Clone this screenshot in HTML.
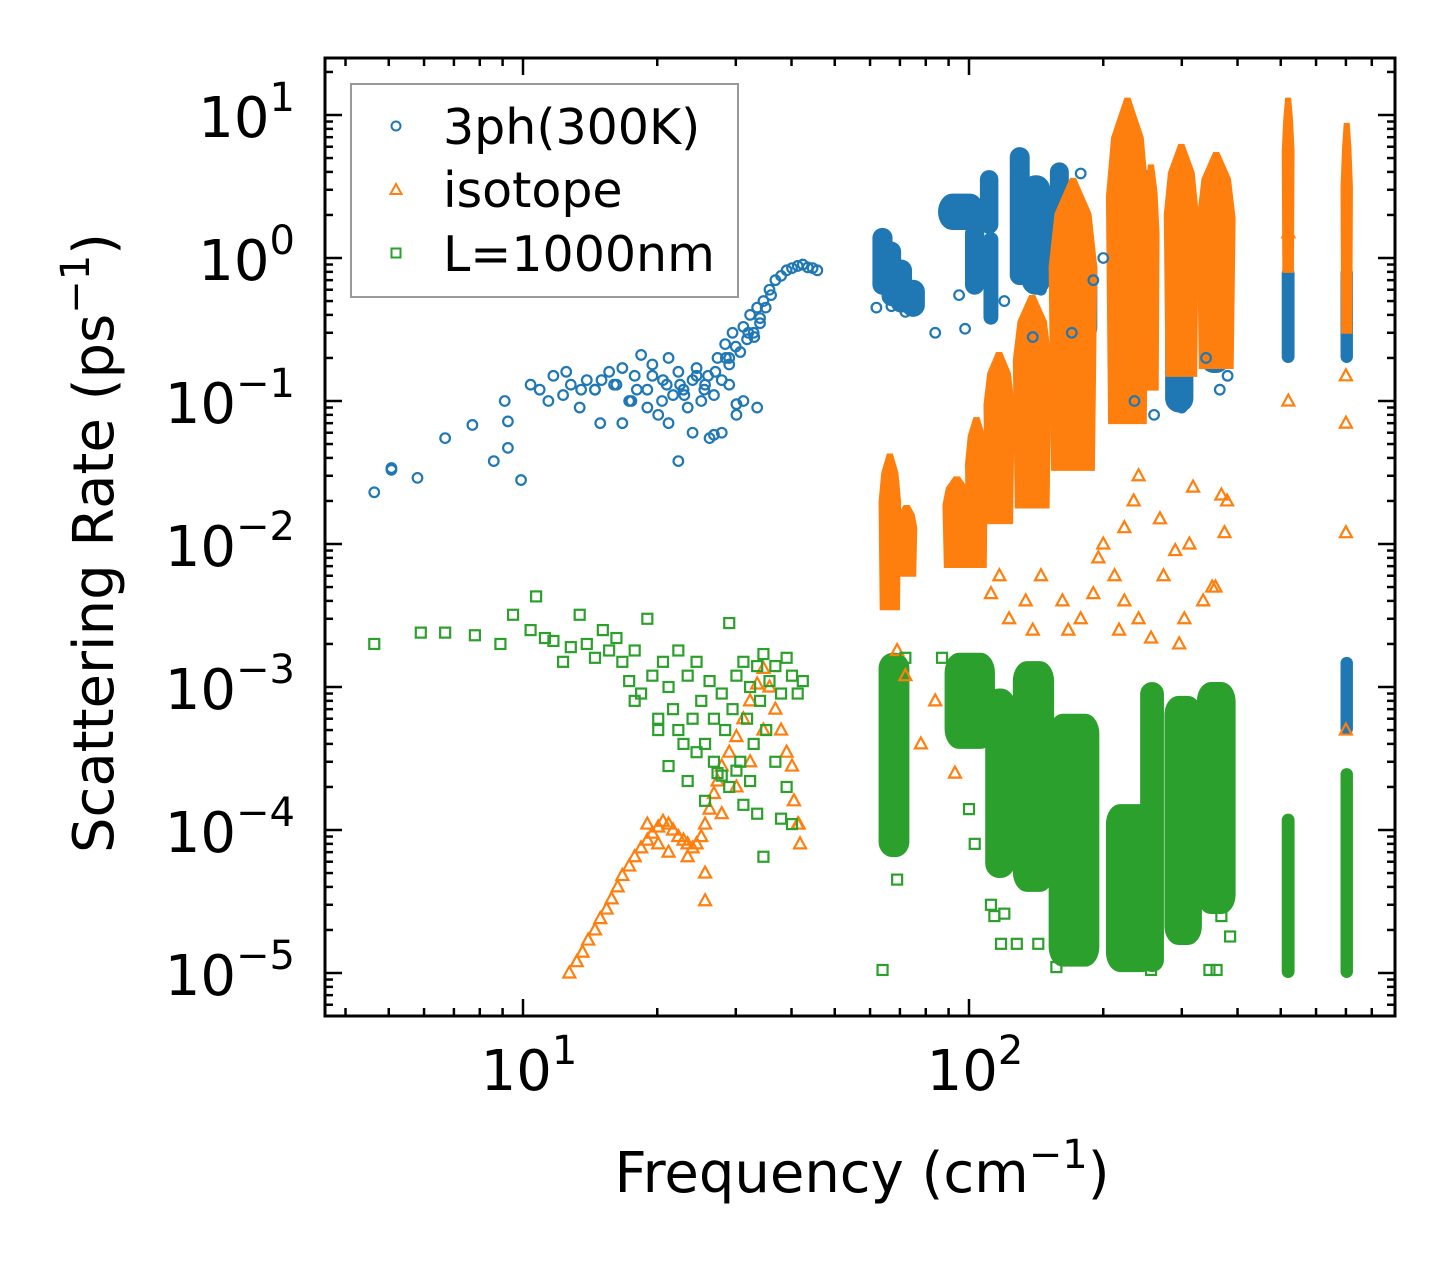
<!DOCTYPE html>
<html><head><meta charset="utf-8"><style>
html,body{margin:0;padding:0;background:#fff;}
svg{display:block;font-family:"DejaVu Sans","Liberation Sans",sans-serif;}
</style></head><body>
<svg id="chart" width="1455" height="1265" viewBox="0 0 1455 1265" xmlns="http://www.w3.org/2000/svg">
<rect x="0" y="0" width="1455" height="1265" fill="#fff"/>
<g id="bands"></g>
<g id="marks"></g>
<g id="axes"></g>
</svg>
<script>
// ---- data (frequency cm^-1, rate ps^-1) ----
const blueF = [4.64,5.07,5.07,5.8,6.69,7.7,8.6,9.1,9.25,9.25,9.9,10.4,10.9,11.4,11.7,12.3,12.8,13.4,13.9,14.5,14.9,15.6,16.2,16.7,17.3,17.8,18.4,19,19.5,20.1,20.6,21.2,21.7,22.3,22.3,22.9,23.4,24,24.5,25.1,25.6,26.2,26.8,27.3,27.9,28.4,29,29.5,30.1,30.7,31.2,31.8,32.3,32.9,33.5,34,34.6,35.7,36.8,37.9,39,40.1,41.3,42.4,43.5,44.6,45.7,27.9,26.8,31.2,33.5,30.1,29,24.5,19,21.2,16.7,62,67,72,84,95,98,112,120,139,145,170,178,190,200,235,260,300,340,365,380,12.5,13.5,15,16,18,19.5,21,23,24,25.5,27,28.5,30,32,34,35,36,33,29,26,22.5,20.5,17.5,14.5];
const blueR = [0.023,0.034,0.033,0.029,0.055,0.068,0.038,0.1,0.072,0.047,0.028,0.13,0.12,0.1,0.15,0.11,0.13,0.09,0.14,0.12,0.07,0.16,0.13,0.17,0.1,0.15,0.21,0.12,0.18,0.08,0.14,0.2,0.11,0.16,0.038,0.12,0.09,0.06,0.15,0.1,0.13,0.055,0.11,0.2,0.14,0.25,0.18,0.3,0.08,0.22,0.33,0.27,0.4,0.3,0.45,0.35,0.5,0.6,0.7,0.75,0.82,0.85,0.88,0.9,0.86,0.85,0.82,0.06,0.058,0.1,0.09,0.095,0.13,0.17,0.09,0.07,0.07,0.45,0.46,0.42,0.3,0.55,0.32,0.42,0.5,0.28,0.6,0.3,3.9,0.7,1.0,0.1,0.08,0.09,0.2,0.12,0.15,0.16,0.12,0.14,0.13,0.12,0.15,0.13,0.11,0.14,0.12,0.16,0.2,0.24,0.3,0.38,0.45,0.55,0.28,0.2,0.15,0.13,0.1,0.1,0.12];
const orangeF = [12.7,13.2,13.6,14,14.5,14.9,15.4,15.8,16.3,16.7,17.3,17.8,18.4,19,19.5,20.1,20.6,21.2,21.7,22.3,22.9,23.4,24,24.5,25.1,25.6,26.2,26.8,27.3,27.9,29,30.1,31.2,32.3,33.5,34.6,35.7,36.8,37.9,39,40.1,41.3,41.8,25.6,25.6,21.2,23.4,27.9,30.1,32.3,34.6,19,20.1,40.5,41.5,112,117,123,134,139,145,162,167,178,190,195,212,217,223,240,256,273,290,296,312,335,357,368,374,69,72,78,84,93,223,240,200,234,268,318,379,351,304,180,520,520,700,700,700,700];
const orangeR = [1e-5,1.2e-5,1.4e-5,1.7e-5,2e-5,2.4e-5,2.8e-5,3.3e-5,4e-5,4.8e-5,5.6e-5,6.5e-5,7.5e-5,8.5e-5,9.5e-5,1.05e-4,1.15e-4,1.1e-4,1e-4,9e-5,8.5e-5,8e-5,7.5e-5,8e-5,9e-5,1.1e-4,1.4e-4,1.8e-4,2.2e-4,2.8e-4,3.5e-4,4.5e-4,6e-4,8e-4,1.05e-3,1.35e-3,1e-3,7e-4,5e-4,3.5e-4,2.8e-4,1.1e-4,8e-5,3.2e-5,5e-5,7e-5,6.5e-5,1.3e-4,2e-4,3e-4,5e-4,1.1e-4,8e-5,1.6e-4,1.1e-4,0.0045,0.006,0.003,0.004,0.0025,0.006,0.004,0.0025,0.003,0.0045,0.008,0.006,0.0025,0.004,0.003,0.0022,0.006,0.009,0.002,0.01,0.004,0.005,0.022,0.012,0.0018,0.0012,4e-4,8e-4,2.5e-4,0.013,0.03,0.01,0.02,0.015,0.025,0.02,0.005,0.003,0.04,0.1,1.5,0.15,0.07,0.012,5e-4];
const greenF = [4.64,5.9,6.69,7.8,8.9,9.5,10.4,10.7,11.2,11.7,12.3,12.8,13.4,13.9,14.5,15.1,15.6,16.2,16.7,17.3,17.8,18.4,19,19.5,20.1,20.6,21.2,21.7,22.3,22.9,23.4,24,24.5,25.1,25.6,26.2,26.8,27.3,27.9,28.4,29,29.5,30.1,30.7,31.2,31.8,32.3,32.9,33.5,34,34.6,35.1,35.7,36.8,37.9,39,40.1,41.3,42.4,33.5,34.6,37.9,40.1,31.2,29,26.8,24.5,22.3,20.1,17.8,21.2,23.4,25.6,27.9,30.1,32.3,36.8,39,64,69,100,103,112,114,118,120,128,130,139,143,157,178,256,346,368,385,359,72,87];
const greenR = [2e-3,2.4e-3,2.4e-3,2.3e-3,2e-3,3.2e-3,2.5e-3,4.3e-3,2.2e-3,2.1e-3,1.5e-3,1.9e-3,3.2e-3,2e-3,1.6e-3,2.5e-3,1.8e-3,2.2e-3,1.5e-3,1.1e-3,1.8e-3,9e-4,3e-3,1.2e-3,6e-4,1.5e-3,1e-3,7e-4,1.8e-3,4e-4,1.2e-3,6e-4,1.5e-3,8e-4,4e-4,1.1e-3,6e-4,2.5e-4,9e-4,5e-4,2.8e-3,7e-4,1.2e-3,3e-4,1.5e-3,6e-4,1e-3,4e-4,1.4e-3,8e-4,1.7e-3,5e-4,1.1e-3,1.4e-3,9e-4,1.6e-3,1.2e-3,9e-4,1.1e-3,1.3e-4,6.5e-5,1.2e-4,1.1e-4,1.5e-4,2e-4,3e-4,3.5e-4,5e-4,5e-4,8e-4,2.8e-4,2.2e-4,1.6e-4,2.4e-4,2.6e-4,2.2e-4,3e-4,2e-4,1.05e-5,4.5e-5,1.4e-4,8e-5,3e-5,2.5e-5,1.6e-5,2.6e-5,1.6e-5,8e-5,5e-5,1.6e-5,1.1e-5,1.9e-5,1.05e-5,1.05e-5,2.5e-5,1.8e-5,1.05e-5,1.6e-3,1.6e-3];
// dense clusters: [freqLow, freqHigh, rateTop, rateBottom]
const blueBandF1 = [62,65,68,72,87,100,108,110,126,134,155,171,212,226,281,336,513,695,695];
const blueBandF2 = [66,69,73,78,106,106,114,114,134,149,164,190,230,252,312,377,526,711,711];
const blueBandR1 = [1.5,1.2,0.9,0.65,2.6,1.6,3.8,1.4,5.5,3.5,4.3,1.0,5.0,4.0,1.1,0.5,0.8,0.8,1.5e-3];
const blueBandR2 = [0.6,0.5,0.45,0.42,1.7,0.6,1.6,0.37,0.7,0.6,0.31,0.28,0.25,0.3,0.09,0.17,0.2,0.2,5e-4];
const orangeBandF1 = [64,70,89,100,110,128,154,207,250,279,331,513,695];
const orangeBandF2 = [69,75,99,108,124,150,190,248,262,321,388,526,711];
const orangeBandR1 = [0.039,0.017,0.027,0.07,0.2,0.5,3.3,12,4.1,5.7,5,12,8];
const orangeBandR2 = [0.0035,0.006,0.0069,0.0069,0.014,0.018,0.033,0.07,0.12,0.15,0.17,0.8,0.3];
const greenBandF1 = [64,90,111,128,154,207,247,280,331,513,695];
const greenBandF2 = [72,112,124,152,192,258,268,326,388,526,711];
const greenBandR1 = [1.6e-3,1.6e-3,9e-4,1.4e-3,6e-4,1.4e-4,1.0e-3,8e-4,1.0e-3,1.2e-4,2.5e-4];
const greenBandR2 = [7e-5,4e-4,5e-5,4e-5,1.2e-5,1.1e-5,1.1e-5,1.7e-5,2.8e-5,1e-5,1e-5];
const xTickVals = [10,100];
const xTickLabels = ["1","2"];
const yTickVals = [10,1,0.1,0.01,0.001,0.0001,0.00001];
const yTickLabels = ["1","0","\u22121","\u22122","\u22123","\u22124","\u22125"];

// ---- axis functions ----
const L=325,R=1395,T=58,B=1016;
const X10=523, XDEC=446, Y1=258, YDEC=143;
function sx(f){return X10+(Math.log10(f)-1)*XDEC;}
function sy(r){return Y1-Math.log10(r)*YDEC;}
const NS="http://www.w3.org/2000/svg";
function mk(tag,attrs,parent){const e=document.createElementNS(NS,tag);for(const k in attrs)e.setAttribute(k,attrs[k]);parent.appendChild(e);return e;}
const C={b:"#1f77b4",o:"#ff7f0e",g:"#2ca02c"};
const bandsG=document.getElementById('bands'), marksG=document.getElementById('marks'), axesG=document.getElementById('axes');

const defs=mk('defs',{},document.getElementById('chart'));
const cp=mk('clipPath',{id:'clip'},defs);
mk('rect',{x:L,y:T,width:R-L,height:B-T},cp);
bandsG.setAttribute('clip-path','url(#clip)');
marksG.setAttribute('clip-path','url(#clip)');

function roundBand(f1,f2,r1,r2,col,name){
  const x1=sx(f1)-4,x2=sx(f2)+4,y1=sy(r1)-5,y2=sy(r2)+5;
  const w=x2-x1;
  const el=mk('rect',{x:x1,y:y1,width:w,height:y2-y1,rx:Math.min(w/2,14),ry:Math.min(w/2,20),fill:col},bandsG);
  
  
}
function spikeBand(f1,f2,r1,r2,col,name){
  const x1=sx(f1)-4,x2=sx(f2)+4,y1=sy(r1)-6,y2=sy(r2)+5;
  const cx=(x1+x2)/2,h=y2-y1,w=x2-x1;
  const pts=[[cx-3,y1],[cx+3,y1],[x2-w*0.12,y1+h*0.12],[x2,y1+h*0.3],[x2-w*0.05,y2-4],[x1+w*0.05,y2-4],[x1,y1+h*0.3],[x1+w*0.12,y1+h*0.12]];
  const el=mk('polygon',{points:pts.map(p=>p.join(',')).join(' '),fill:col},bandsG);
  
  
}
function circleM(x,y,parent){return mk('circle',{cx:x,cy:y,r:4.8,fill:'none',stroke:C.b,'stroke-width':2.2},parent);}
function triM(x,y,parent){return mk('polygon',{points:`${x},${y-6.5} ${x+6},${y+4.5} ${x-6},${y+4.5}`,fill:'none',stroke:C.o,'stroke-width':2.2},parent);}
function sqM(x,y,parent){return mk('rect',{x:x-5,y:y-5,width:10,height:10,fill:'none',stroke:C.g,'stroke-width':2.2},parent);}

for(let i=0;i<blueBandF1.length;i++) roundBand(blueBandF1[i],blueBandF2[i],blueBandR1[i],blueBandR2[i],C.b,'3ph-cluster');
for(let i=0;i<blueF.length;i++){const e=circleM(sx(blueF[i]),sy(blueR[i]),marksG);
  
  }
for(let i=0;i<orangeBandF1.length;i++) spikeBand(orangeBandF1[i],orangeBandF2[i],orangeBandR1[i],orangeBandR2[i],C.o,'isotope-cluster');
for(let i=0;i<orangeF.length;i++){const e=triM(sx(orangeF[i]),sy(orangeR[i]),marksG);
  
  }
for(let i=0;i<greenBandF1.length;i++) roundBand(greenBandF1[i],greenBandF2[i],greenBandR1[i],greenBandR2[i],C.g,'boundary-cluster');
for(let i=0;i<greenF.length;i++){const e=sqM(sx(greenF[i]),sy(greenR[i]),marksG);
  
  }

function line(x1,y1,x2,y2,w){return mk('line',{x1:x1,y1:y1,x2:x2,y2:y2,stroke:'#000','stroke-width':w},axesG);}
for(let d=0;d<=2;d++){for(let m=1;m<=9;m++){const f=m*Math.pow(10,d);const x=sx(f);if(x<L+1||x>R-1)continue;
  const len=(m===1)?17:8;
  line(x,B,x,B-len,2.5);line(x,T,x,T+len,2.5);}}
for(let d=-6;d<=1;d++){for(let m=1;m<=9;m++){const r=m*Math.pow(10,d);const y=sy(r);if(y<T+1||y>B-1)continue;
  const len=(m===1)?17:8;
  line(L,y,L+len,y,2.5);line(R,y,R-len,y,2.5);}}
const frame=mk('rect',{x:L,y:T,width:R-L,height:B-T,fill:'none',stroke:'#000','stroke-width':3},axesG);



for(let i=0;i<xTickVals.length;i++){const x=sx(xTickVals[i]);
  const t=mk('text',{x:x+6,y:1090,'font-size':56,'text-anchor':'middle'},axesG);
  
  
  t.appendChild(document.createTextNode('10'));
  const s=mk('tspan',{dy:-26,'font-size':40},t);s.textContent=xTickLabels[i];}
for(let i=0;i<yTickVals.length;i++){const y=sy(yTickVals[i]);
  const t=mk('text',{x:295,y:y+22,'font-size':56,'text-anchor':'end'},axesG);
  
  
  t.appendChild(document.createTextNode('10'));
  const s=mk('tspan',{dy:-26,'font-size':40},t);s.textContent=yTickLabels[i];}
</script>
<svg style="position:absolute;left:0;top:0" width="1455" height="1265" xmlns="http://www.w3.org/2000/svg" font-family="DejaVu Sans, Liberation Sans, sans-serif">
<text x="862" y="1192" font-size="56" text-anchor="middle">Frequency (cm<tspan dy="-24" font-size="40">−1</tspan><tspan dy="24">)</tspan></text>
<text transform="translate(113,543) rotate(-90)" x="0" y="0" font-size="56" text-anchor="middle">Scattering Rate (ps<tspan dy="-24" font-size="40">−1</tspan><tspan dy="24">)</tspan></text>
<g>
<rect x="351" y="84" width="387" height="213" fill="#fff" fill-opacity="0.8" stroke="#999" stroke-width="2"/>
<circle cx="396" cy="126" r="4.5" fill="none" stroke="#1f77b4" stroke-width="2"/>
<text x="443" y="144" font-size="49">3ph(300K)</text>
<polygon points="396,184 401.5,194 390.5,194" fill="none" stroke="#ff7f0e" stroke-width="2"/>
<text x="443" y="207" font-size="49">isotope</text>
<rect x="391.5" y="248.5" width="9" height="9" fill="none" stroke="#2ca02c" stroke-width="2"/>
<text x="443" y="271" font-size="49">L=1000nm</text>
</g>
</svg>
</body></html>
